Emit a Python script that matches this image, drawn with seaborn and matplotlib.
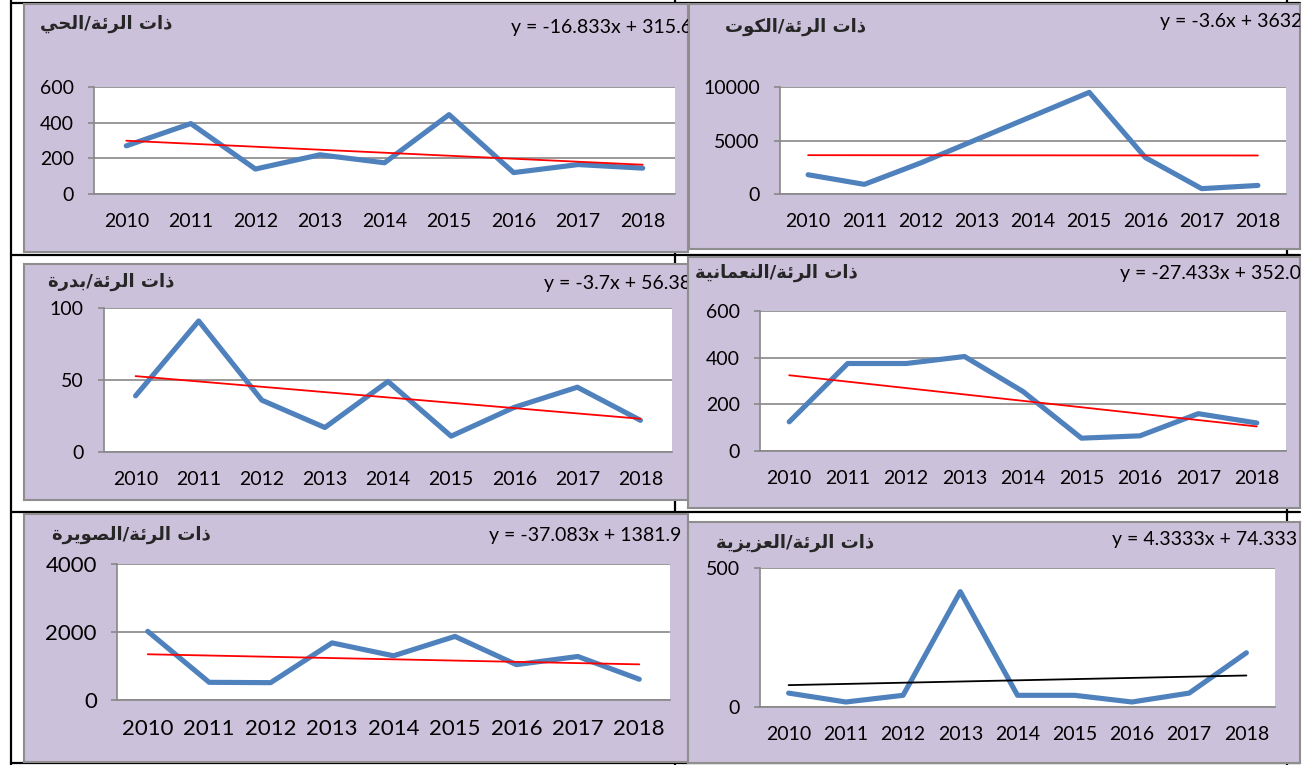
import numpy as np
import seaborn as sns
import matplotlib.pyplot as plt
from matplotlib.lines import Line2D

# data
years = ['2010', '2011', '2012', '2013', '2014', '2015', '2016', '2017', '2018']

hay = [270, 395, 140, 220, 175, 445, 120, 165, 145]
kut = [1800, 900, 2900, 5100, 7300, 9500, 3400, 500, 800]
badra = [39, 91, 36, 17, 49, 11, 31, 45, 22]
numaniya = [125, 375, 375, 405, 255, 55, 65, 160, 120]
suwaira = [2020, 520, 510, 1680, 1300, 1870, 1040, 1280, 610]
aziziya = [50, 18, 42, 415, 42, 42, 18, 50, 195]

titles = ['ذات الرئة/الحي', 'ذات الرئة/الكوت', 'ذات الرئة/بدرة',
          'ذات الرئة/النعمانية', 'ذات الرئة/الصويرة', 'ذات الرئة/العزيزية']
slopes = [-16.833, -3.6, -3.7, -27.433, -37.083, 4.3333]
intercepts = [315.61, 3632, 56.389, 352.06, 1381.9, 74.333]
equations = ['y = -16.833x + 315.61', 'y = -3.6x + 3632', 'y = -3.7x + 56.389',
             'y = -27.433x + 352.06', 'y = -37.083x + 1381.9', 'y = 4.3333x + 74.333']
yticks = [[0, 200, 400, 600], [0, 5000, 10000], [0, 50, 100],
          [0, 200, 400, 600], [0, 2000, 4000], [0, 500]]
series = [hay, kut, badra, numaniya, suwaira, aziziya]

# layout in pixels (left, top, right, bottom)
bg_boxes = [(24, 4, 688, 252), (689, 4, 1300, 249), (24, 264, 688, 500),
            (688, 257, 1300, 508), (24, 514, 688, 762), (688, 522, 1300, 763)]
plot_boxes = [(94, 87, 675, 194), (780, 87, 1286, 194), (104, 308, 672, 452),
              (760, 311, 1286, 451), (117, 564, 670, 700), (760, 568, 1275, 707)]
title_pos = [(172, 24), (866, 27), (174, 282), (858, 273), (211, 535), (874, 543)]
eq_pos = [(511, 27), (1160, 21), (544, 283), (1120, 273), (489, 536), (1112, 540)]
font_sizes = [14, 14, 14, 14, 16, 14]
trend_colors = ['red', 'red', 'red', 'red', 'red', 'black']

LAVENDER = '#CCC1DA'
GRID = '#888888'
BLUE = '#4F81BD'

# contextual Arabic forms (presentation forms B): base code, dual joining
FORMS = {'ا': (0xFE8D, False), 'ب': (0xFE8F, True), 'ة': (0xFE93, False),
         'ت': (0xFE95, True), 'ح': (0xFEA1, True), 'د': (0xFEA9, False),
         'ذ': (0xFEAB, False), 'ر': (0xFEAD, False), 'ز': (0xFEAF, False),
         'ص': (0xFEB9, True), 'ع': (0xFEC9, True), 'ك': (0xFED9, True),
         'ل': (0xFEDD, True), 'م': (0xFEE1, True), 'ن': (0xFEE5, True),
         'و': (0xFEED, False), 'ي': (0xFEF1, True), 'ئ': (0xFE89, True)}


def shape(text):
    out = []
    for i, ch in enumerate(text):
        if ch not in FORMS:
            out.append(ch)
            continue
        base, dual = FORMS[ch]
        prev = text[i - 1] if i > 0 else ''
        nxt = text[i + 1] if i + 1 < len(text) else ''
        jp = prev in FORMS and FORMS[prev][1]
        jn = dual and nxt in FORMS
        if jp and jn:
            code = base + 3
        elif jp:
            code = base + 1
        elif jn:
            code = base + 2
        else:
            code = base
        out.append(chr(code))
    return ''.join(reversed(out))


sns.set_theme(style='white')
plt.rcParams['font.family'] = ['Lato', 'DejaVu Sans']

W, H = 1312, 765
fig = plt.figure(figsize=(W / 100, H / 100), dpi=100)
fig.patch.set_facecolor('white')


def fbox(l, t, r, b):
    return [l / W, 1 - b / H, (r - l) / W, (b - t) / H]


def fline(x0, y0, x1, y1):
    fig.add_artist(Line2D([x0 / W, x1 / W], [1 - y0 / H, 1 - y1 / H],
                          color='black', lw=1.6, zorder=-1))


# table borders behind the charts
fline(11, 3, 1300, 3)
fline(11, 0, 11, 765)
fline(11, 255, 1300, 255)
fline(11, 512, 1300, 512)
fline(11, 763, 1300, 763)
fline(675, 0, 675, 765)
fline(1287, 0, 1287, 765)

pos = np.arange(len(years))

for i in range(6):
    bg = fig.add_axes(fbox(*bg_boxes[i]), zorder=1)
    bg.set_facecolor(LAVENDER)
    bg.set_xticks([])
    bg.set_yticks([])
    for s in bg.spines.values():
        s.set_color('#8E8E8E')
        s.set_linewidth(1.5)
    tx, ty = title_pos[i]
    bg.text(tx / W, 1 - ty / H, shape(titles[i]), transform=fig.transFigure,
            ha='right', va='center', fontsize=13, fontweight='bold',
            family='DejaVu Sans', clip_on=True)
    ex, ey = eq_pos[i]
    bg.text(ex / W, 1 - ey / H, equations[i], transform=fig.transFigure,
            ha='left', va='center', fontsize=14, color='black', clip_on=True)

    ax = fig.add_axes(fbox(*plot_boxes[i]), zorder=2)
    ax.set_facecolor('white')
    vals = series[i]
    trend = [slopes[i] * (k + 1) + intercepts[i] for k in pos]
    sns.lineplot(x=pos, y=vals, ax=ax, color=BLUE, lw=3.7,
                 solid_capstyle='round', zorder=3)
    sns.lineplot(x=pos, y=trend, ax=ax, color=trend_colors[i], lw=1.3, zorder=4)

    fs = font_sizes[i]
    ax.set_xlim(-0.5, 8.5)
    ax.set_ylim(0, yticks[i][-1])
    ax.set_xticks(pos)
    ax.set_xticklabels(years, fontsize=fs)
    ax.set_xticks(np.arange(-0.5, 9), minor=True)
    ax.set_yticks(yticks[i])
    ax.set_yticklabels([str(v) for v in yticks[i]], fontsize=fs)
    ax.tick_params(axis='x', which='major', length=0, pad=14, colors='black')
    ax.tick_params(axis='x', which='minor', length=4.5, width=1.2,
                   color=GRID, direction='out')
    ax.tick_params(axis='y', length=4.5, width=1.2, color=GRID,
                   direction='out', pad=10, labelcolor='black', left=True)
    ax.yaxis.grid(True, color=GRID, lw=1.2)
    ax.xaxis.grid(False)
    ax.set_axisbelow(True)
    for side in ['top', 'right']:
        ax.spines[side].set_visible(False)
    for side in ['left', 'bottom']:
        ax.spines[side].set_color(GRID)
        ax.spines[side].set_linewidth(1.2)
    ax.set_xlabel('')
    ax.set_ylabel('')

fig.savefig('out.png', dpi=100)
